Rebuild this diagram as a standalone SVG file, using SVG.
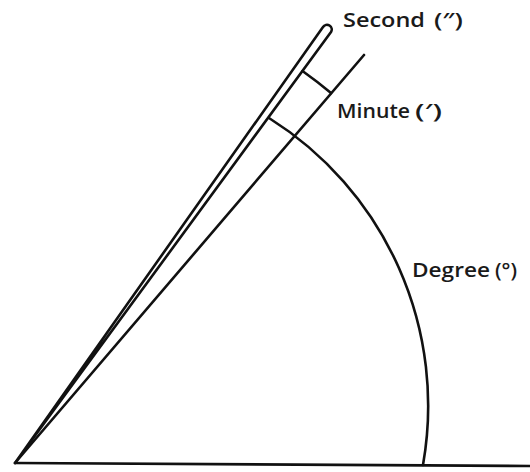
<svg xmlns="http://www.w3.org/2000/svg" width="530" height="472" viewBox="0 0 530 472">
<style>
.ln{fill:none;stroke:#111;stroke-width:2.6;stroke-linecap:round;stroke-linejoin:round}
.lb{font-family:"Open Sans","Liberation Sans",sans-serif;font-weight:600;font-size:19px;fill:#1a1a1a}
</style>
<rect width="530" height="472" fill="#fff"/>
<g id="lines">
<path class="ln" d="M15,463 L530,466"/>
<path class="ln" d="M15,463 L364,55"/>
<path class="ln" d="M15,463 L323,27 A4.7,4.7 0 0 1 331,32 Z"/>
</g>
<g id="arcs">
<path class="ln" d="M423,465 A340,340 0 0 0 269,118"/>
<path class="ln" d="M302.5,71 A486,486 0 0 1 331,93"/>
</g>
<g id="labels">
<text class="lb" x="343" y="27"><tspan textLength="82" lengthAdjust="spacingAndGlyphs">Second</tspan><tspan x="434" textLength="29" lengthAdjust="spacingAndGlyphs">(″)</tspan></text>
<text class="lb" x="337" y="118"><tspan textLength="73" lengthAdjust="spacingAndGlyphs">Minute</tspan><tspan x="415" textLength="27" lengthAdjust="spacingAndGlyphs">(′)</tspan></text>
<text class="lb" x="412" y="277"><tspan textLength="78" lengthAdjust="spacingAndGlyphs">Degree</tspan><tspan x="495" textLength="22" lengthAdjust="spacingAndGlyphs">(°)</tspan></text>
</g>
</svg>
